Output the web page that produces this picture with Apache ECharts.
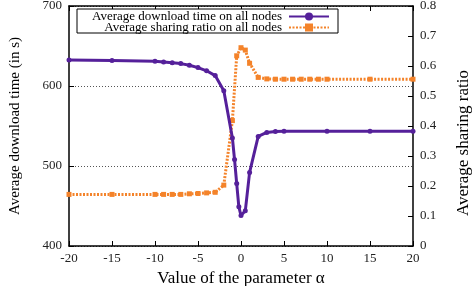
<!DOCTYPE html>
<html>
<head>
<meta charset="utf-8">
<script src="https://cdn.jsdelivr.net/npm/echarts@6/dist/echarts.min.js"></script>
<style>
  html, body { margin: 0; padding: 0; background: #fff; }
  #chart { width: 475px; height: 286px; }
</style>
</head>
<body>
<div id="chart"></div>
<script>
// download time series (left axis)
var dlX = [-20, -15, -10, -9, -8, -7, -6, -5, -4, -3, -2, -1, -0.75, -0.5, -0.25, 0, 0.5, 1, 2, 3, 4, 5, 10, 15, 20];
var dlY = [632.5, 632, 631, 630, 629, 628, 626, 623, 619, 613, 594, 535, 508, 478, 449, 438, 444, 492, 537, 542, 543, 543.5, 543.5, 543.5, 543.5];
// sharing ratio series (right axis)
var srX = [-20, -15, -10, -9, -8, -7, -6, -5, -4, -3, -2, -1, -0.5, 0, 0.5, 1, 2, 3, 4, 5, 6, 7, 8, 9, 10, 15, 20];
var srY = [0.172, 0.172, 0.172, 0.172, 0.172, 0.172, 0.174, 0.175, 0.177, 0.179, 0.203, 0.418, 0.634, 0.661, 0.653, 0.609, 0.562, 0.557, 0.556, 0.556, 0.556, 0.556, 0.556, 0.556, 0.556, 0.556, 0.556];
var seriesNames = ["Average download time on all nodes", "Average sharing ratio on all nodes"];

var FONT = "Liberation Serif";
var purple = "#55209a";
var orange = "#f4832a";

function pairs(xs, ys) {
  return xs.map(function (x, i) { return [x, ys[i]]; });
}

var dom = document.getElementById("chart");
var myChart = echarts.init(dom, null, { renderer: "canvas" });

var axisLine = { show: true, onZero: false, lineStyle: { color: "#000", width: 1.5 } };
var tick = { show: true, inside: true, length: 5, lineStyle: { color: "#000", width: 1 } };
var lbl = { color: "#222", fontFamily: FONT, fontSize: 13 };
var legendText = { fontFamily: FONT, fontSize: 13, color: "#000", padding: [0, 2, 0, 0] };

var option = {
  animation: false,
  grid: { left: 69, right: 62, top: 6, bottom: 40, containLabel: false, outerBoundsMode: "none" },
  graphic: [{
    type: "rect",
    shape: { x: 77, y: 9, width: 261, height: 24 },
    style: { fill: "#fff", stroke: "#000", lineWidth: 1 },
    z: 5
  }],
  legend: [
    {
      data: [seriesNames[0]], right: 145, top: 10, align: "right",
      itemWidth: 40, itemHeight: 10, padding: 0, z: 10, textStyle: legendText
    },
    {
      data: [seriesNames[1]], right: 145, top: 21, align: "right",
      itemWidth: 40, itemHeight: 10, padding: 0, z: 10, textStyle: legendText
    }
  ],
  xAxis: [
    {
      type: "value", min: -20, max: 20, interval: 5,
      name: "Value of the parameter α", nameLocation: "middle", nameGap: 24,
      nameTextStyle: { fontFamily: FONT, fontSize: 17, color: "#000" },
      axisLine: axisLine, axisTick: tick,
      axisLabel: Object.assign({ margin: 6 }, lbl),
      splitLine: { show: false }
    },
    {
      type: "value", min: -20, max: 20, interval: 5, position: "top",
      axisLine: axisLine, axisTick: tick,
      axisLabel: { show: false }, splitLine: { show: false }
    }
  ],
  yAxis: [
    {
      type: "value", min: 400, max: 700, interval: 100,
      name: "Average download time (in s)", nameLocation: "middle", nameGap: 46,
      nameTextStyle: { fontFamily: FONT, fontSize: 15, color: "#000" },
      axisLine: axisLine, axisTick: tick,
      axisLabel: Object.assign({ margin: 7 }, lbl),
      splitLine: { show: true, lineStyle: { color: "#555", type: [1, 2], width: 1 } }
    },
    {
      type: "value", min: 0, max: 0.8, interval: 0.1, position: "right",
      name: "Average sharing ratio", nameLocation: "middle", nameGap: 42, nameRotate: 90,
      nameTextStyle: { fontFamily: FONT, fontSize: 17, color: "#000", padding: [0, 34, 0, 0] },
      axisLine: axisLine, axisTick: tick,
      axisLabel: Object.assign({ margin: 7 }, lbl),
      splitLine: { show: false }
    }
  ],
  series: [
    {
      name: seriesNames[0], type: "line", xAxisIndex: 0, yAxisIndex: 0,
      data: pairs(dlX, dlY),
      symbol: "circle", symbolSize: 5,
      itemStyle: { color: purple },
      lineStyle: { color: purple, width: 3 },
      z: 3
    },
    {
      name: seriesNames[1], type: "line", xAxisIndex: 0, yAxisIndex: 1,
      data: pairs(srX, srY),
      symbol: "rect", symbolSize: 5,
      itemStyle: { color: orange },
      lineStyle: { color: orange, width: 3, type: [2, 1.5] },
      z: 2
    }
  ]
};

myChart.setOption(option);
window.addEventListener("resize", myChart.resize);
</script>
</body>
</html>
